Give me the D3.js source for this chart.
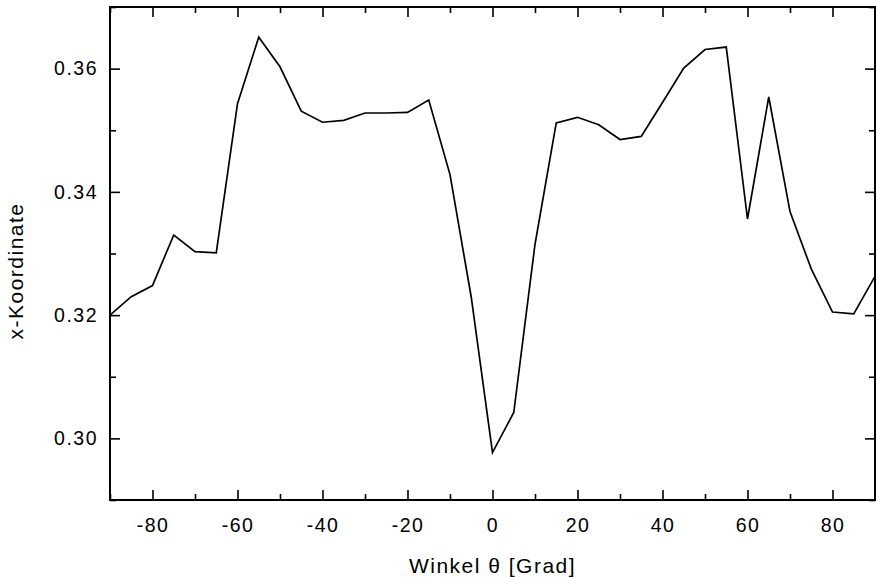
<!DOCTYPE html>
<html>
<head>
<meta charset="utf-8">
<script src="https://cdn.jsdelivr.net/npm/d3@7"></script>
<style>
  html, body { margin: 0; padding: 0; background: #fff; }
  svg { display: block; }
  text { font-family: "Liberation Sans", Arial, sans-serif; fill: #000; }
</style>
</head>
<body>
<svg id="chart" width="876" height="577"></svg>
<script>
const angles = [-90,-85,-80,-75,-70,-65,-60,-55,-50,-45,-40,-35,-30,-25,-20,-15,-10,-5,0,5,10,15,20,25,30,35,40,45,50,55,60,65,70,75,80,85,90];
const xCoord = [0.3200,0.3230,0.3248,0.3330,0.3303,0.3301,0.3543,0.3651,0.3603,0.3531,0.3513,0.3516,0.3528,0.3528,0.3529,0.3549,0.3428,0.3229,0.2977,0.3042,0.3315,0.3512,0.3521,0.3509,0.3485,0.3490,0.3545,0.3601,0.3631,0.3635,0.3356,0.3554,0.3368,0.3275,0.3205,0.3202,0.3263];
const xTicks = [-80,-60,-40,-20,0,20,40,60,80];
const xMinorTicks = [-90,-70,-50,-30,-10,10,30,50,70,90];
const yTicks = [0.30,0.32,0.34,0.36];
const yMinorTicks = [0.29,0.31,0.33,0.35,0.37];
const xDomain = [-90, 90];
const yDomain = [0.29, 0.37];
const xTitle = "Winkel θ [Grad]";
const yTitle = "x-Koordinate";

const L = 110, R = 875, T = 7, B = 500;
const svg = d3.select("#chart");
const x = d3.scaleLinear().domain(xDomain).range([L, R]);
const y = d3.scaleLinear().domain(yDomain).range([B, T]);

const fontSize = 19.5;
const maj = 10, mnr = 6;
const fmtX = d => String(d);           // plain hyphen-minus as in the original
const fmtY = d => d.toFixed(2);

function styleAxis(g) {
  g.select(".domain").remove();
  g.selectAll(".tick line").attr("stroke", "#000").attr("stroke-width", 1.6);
  g.selectAll(".tick text").attr("font-size", fontSize).attr("letter-spacing", "1.5px")
    .style("font-family", '"Liberation Sans", Arial, sans-serif');
}

// bottom major
svg.append("g").attr("transform", `translate(0,${B})`)
  .call(d3.axisBottom(x).tickValues(xTicks).tickSize(-maj).tickPadding(18).tickFormat(fmtX))
  .call(styleAxis);
// bottom minor
svg.append("g").attr("transform", `translate(0,${B})`)
  .call(d3.axisBottom(x).tickValues(xMinorTicks).tickSize(-mnr).tickFormat(""))
  .call(styleAxis);
// top
svg.append("g").attr("transform", `translate(0,${T})`)
  .call(d3.axisTop(x).tickValues(xTicks).tickSize(-maj).tickFormat(""))
  .call(styleAxis);
svg.append("g").attr("transform", `translate(0,${T})`)
  .call(d3.axisTop(x).tickValues(xMinorTicks).tickSize(-mnr).tickFormat(""))
  .call(styleAxis);
// left
svg.append("g").attr("transform", `translate(${L},0)`)
  .call(d3.axisLeft(y).tickValues(yTicks).tickSize(-maj).tickPadding(12).tickFormat(fmtY))
  .call(styleAxis);
svg.append("g").attr("transform", `translate(${L},0)`)
  .call(d3.axisLeft(y).tickValues(yMinorTicks).tickSize(-mnr).tickFormat(""))
  .call(styleAxis);
// right
svg.append("g").attr("transform", `translate(${R},0)`)
  .call(d3.axisRight(y).tickValues(yTicks).tickSize(-maj).tickFormat(""))
  .call(styleAxis);
svg.append("g").attr("transform", `translate(${R},0)`)
  .call(d3.axisRight(y).tickValues(yMinorTicks).tickSize(-mnr).tickFormat(""))
  .call(styleAxis);

// frame
svg.append("rect").attr("x", L).attr("y", T).attr("width", R - L).attr("height", B - T)
  .attr("fill", "none").attr("stroke", "#000").attr("stroke-width", 2);

// line
const line = d3.line().x((d, i) => x(angles[i])).y(d => y(d));
svg.append("path").datum(xCoord).attr("d", line)
  .attr("fill", "none").attr("stroke", "#000").attr("stroke-width", 1.7)
  .attr("stroke-linejoin", "miter");

// titles
svg.append("text").attr("x", (L + R) / 2).attr("y", 573).attr("text-anchor", "middle")
  .attr("font-size", 21).attr("letter-spacing", "1.5px").text(xTitle);
svg.append("text").attr("transform", `translate(23,271) rotate(-90)`).attr("text-anchor", "middle")
  .attr("font-size", 21).attr("letter-spacing", "1.5px").text(yTitle);
</script>
</body>
</html>
